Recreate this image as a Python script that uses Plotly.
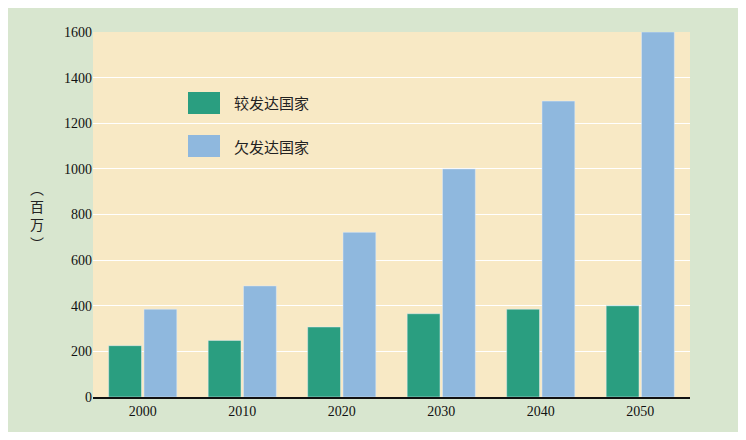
import plotly.graph_objects as go

years = ["2000", "2010", "2020", "2030", "2040", "2050"]
developed = [225, 248, 307, 365, 385, 400]
less_developed = [385, 487, 722, 1000, 1297, 1600]
names = ["较发达国家", "欠发达国家"]
colors = ["#2a9e80", "#8fb8de"]

fig = go.Figure()
fig.add_bar(x=years, y=developed, name=names[0], marker_color=colors[0], showlegend=False)
fig.add_bar(x=years, y=less_developed, name=names[1], marker_color=colors[1], showlegend=False)

OFF = 8
W, H = 746 - 2 * OFF, 440 - 2 * OFF
L, R, T, B = 93 - OFF, 56 - OFF, 32 - OFF, 43 - OFF
pw, ph = W - L - R, H - T - B
def px(x): return (x - OFF - L) / pw
def py(y): return (H - B - (y - OFF)) / ph

for i, (nm, c) in enumerate(zip(names, colors)):
    y0 = 92 + i * 43
    fig.add_shape(type="rect", xref="paper", yref="paper", x0=px(188), x1=px(220),
                  y0=py(y0 + 22), y1=py(y0), fillcolor=c, line_width=0)
    fig.add_annotation(xref="paper", yref="paper", x=px(232), y=py(y0 + 11), text=nm,
                       showarrow=False, xanchor="left", yanchor="middle",
                       font=dict(family="Noto Sans CJK SC", size=15, color="#222"))

fig.add_annotation(xref="paper", yref="paper", x=px(28), y=py(215), text="︵<br>百<br>万<br>︶",
                   showarrow=False, font=dict(family="Noto Sans CJK SC", size=14, color="#222"))

fig.update_layout(
    width=W, height=H, margin=dict(l=L, r=R, t=T, b=B),
    paper_bgcolor="#d8e6cf", plot_bgcolor="#f8e9c5",
    barmode="group", bargap=0.29, bargroupgap=0.07,
    font=dict(family="Liberation Serif", size=14, color="#111"),
    yaxis=dict(range=[0, 1600], dtick=200, gridcolor="#ffffff", gridwidth=1,
               zeroline=False, ticks="", fixedrange=True),
    xaxis=dict(showline=True, linecolor="#111", linewidth=1.5, ticks=""),
)
fig.write_html("out.html")
